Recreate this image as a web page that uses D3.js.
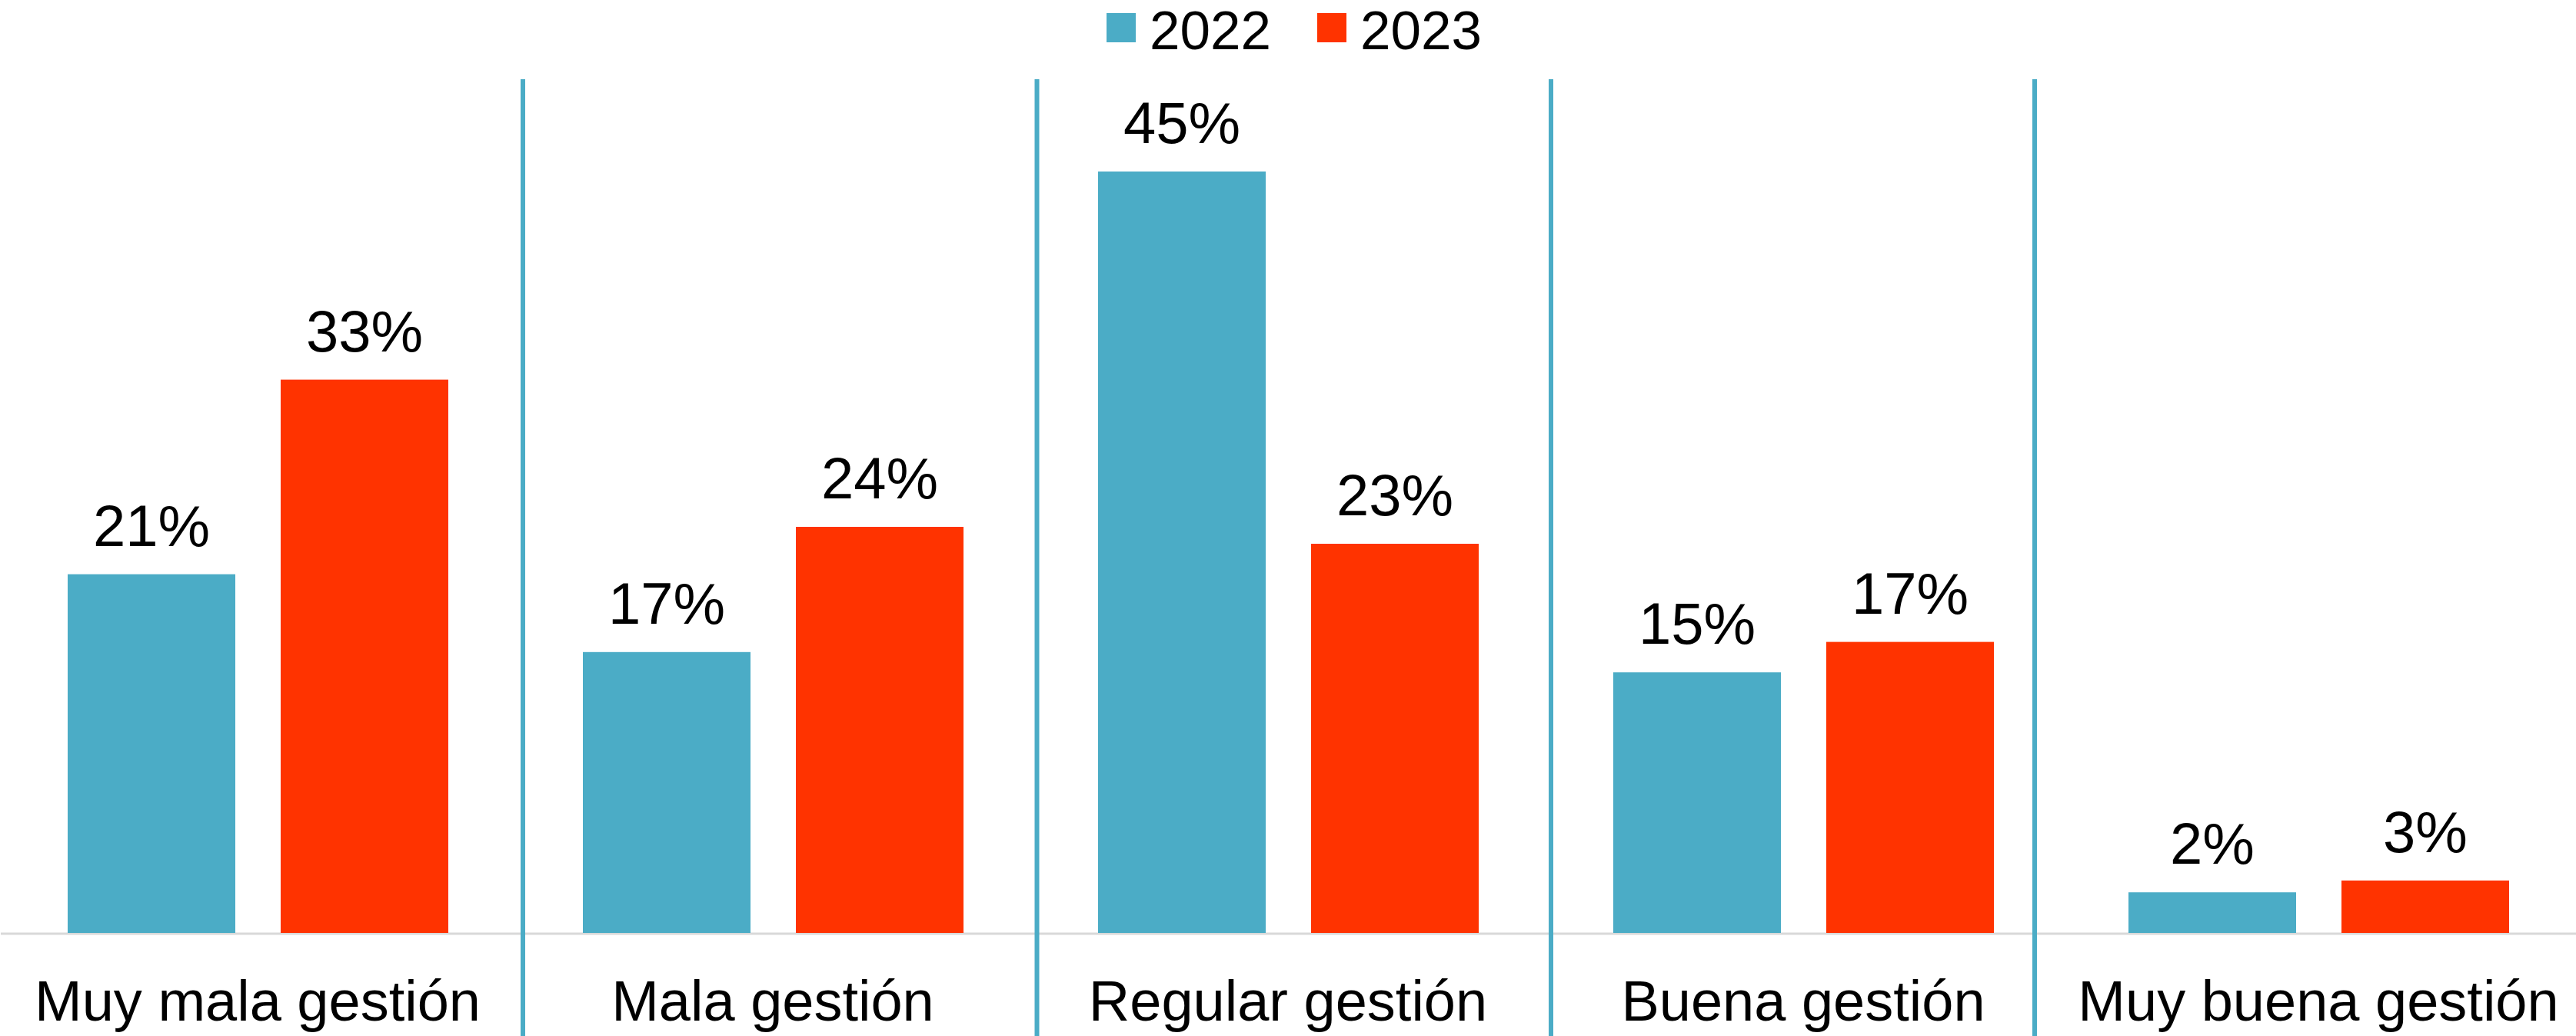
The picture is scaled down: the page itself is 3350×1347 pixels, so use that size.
<!DOCTYPE html>
<html lang="es">
  <head>
    <meta charset="utf-8">
    <title>Gestión 2022 vs 2023</title>
    <script src="https://d3js.org/d3.v7.min.js"></script>
    <style>
      html, body { margin: 0; padding: 0; background: #fff; }
      svg { display: block; }
    </style>
  </head>
  <body>
  <script>
  const categories = ["Muy mala gestión", "Mala gestión", "Regular gestión", "Buena gestión", "Muy buena gestión"];
  const series = ["2022", "2023"];
  const values2022 = [21.2, 16.6, 45.0, 15.4, 2.4];
  const values2023 = [32.7, 24.0, 23.0, 17.2, 3.1];
  const colors = ["#4BACC6", "#FF3300"];

  const width = 3350;
  const height = 1347;
  const base = 1213;

  const svg = d3.select(document.body).append('svg')
    .attr('width', width).attr('height', height)
    .style('font-family', '"Liberation Sans", Arial, sans-serif');

  const x = d3.scaleBand().domain(categories).range([0, width]);
  const xs = d3.scaleBand().domain(series).range([88, 583]).paddingInner(59 / 277);
  // 22px per percent point
  const y = d3.scaleLinear().domain([0, 45]).range([base, 223]);
  const color = d3.scaleOrdinal().domain(series).range(colors);

  const rows = categories.map((c, i) => ({ cat: c, vals: [values2022[i], values2023[i]] }));

  // baseline
  svg.append('line')
    .attr('x1', 1).attr('x2', width)
    .attr('y1', base + 1).attr('y2', base + 1)
    .attr('stroke', '#d9d9d9').attr('stroke-width', 3);

  // separators between categories
  const sepShift = [10, 8.5, 7, -34];
  svg.selectAll('line.sep').data(categories.slice(0, -1)).enter()
    .append('line').attr('class', 'sep')
    .attr('x1', (d, i) => x(d) + x.bandwidth() + sepShift[i])
    .attr('x2', (d, i) => x(d) + x.bandwidth() + sepShift[i])
    .attr('y1', 103).attr('y2', height)
    .attr('stroke', '#4BACC6').attr('stroke-width', 6);

  const group = svg.selectAll('g.cat').data(rows).enter()
    .append('g').attr('class', 'cat')
    .attr('transform', d => 'translate(' + x(d.cat) + ',0)');

  const bars = group.selectAll('g.bar')
    .data(d => d.vals.map((v, j) => ({ key: series[j], value: v })))
    .enter().append('g').attr('class', 'bar');

  bars.append('rect')
    .attr('x', d => xs(d.key))
    .attr('width', xs.bandwidth())
    .attr('y', d => y(d.value))
    .attr('height', d => base - y(d.value))
    .attr('fill', d => color(d.key));

  bars.append('text')
    .attr('x', d => xs(d.key) + xs.bandwidth() / 2)
    .attr('y', d => y(d.value) - 37)
    .attr('text-anchor', 'middle')
    .attr('font-size', '76px')
    .attr('fill', '#000')
    .text(d => Math.round(d.value) + '%');

  // category labels
  group.append('text')
    .attr('x', x.bandwidth() / 2)
    .attr('y', 1327)
    .attr('text-anchor', 'middle')
    .attr('font-size', '74px')
    .attr('fill', '#000')
    .text(d => d.cat);

  // legend
  const legend = svg.selectAll('g.legend').data(series).enter()
    .append('g').attr('class', 'legend')
    .attr('transform', (d, i) => 'translate(' + (1439 + i * 274) + ',0)');

  legend.append('rect')
    .attr('x', 0).attr('y', 17)
    .attr('width', 38).attr('height', 38)
    .attr('fill', d => color(d));

  legend.append('text')
    .attr('x', 56).attr('y', 64)
    .attr('font-size', '71px')
    .attr('fill', '#000')
    .text(d => d);
  </script>
  </body>
</html>
